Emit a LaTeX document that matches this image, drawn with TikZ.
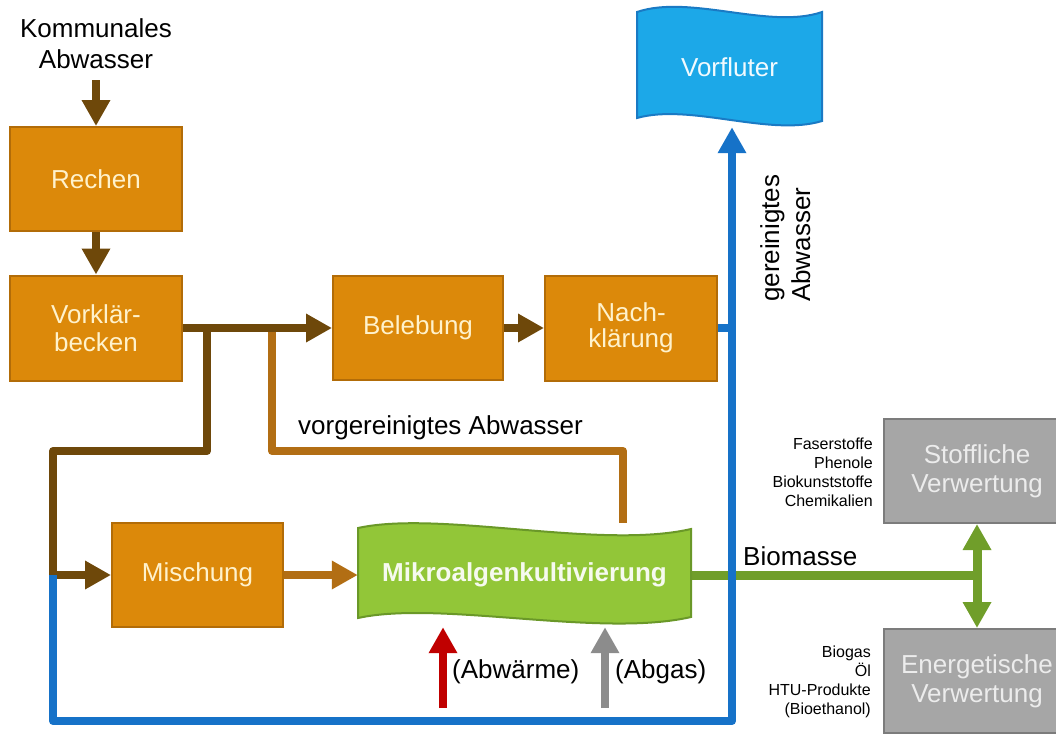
\documentclass[tikz,border=0pt]{standalone}
\usepackage{fontspec}
\setmainfont{Liberation Sans}
\usetikzlibrary{arrows.meta}
\pgfdeclarelayer{back}
\pgfsetlayers{back,main}

\definecolor{boxfill}{RGB}{220,137,10}
\definecolor{boxedge}{RGB}{178,108,8}
\definecolor{boxtext}{RGB}{255,242,204}
\definecolor{pipedark}{RGB}{110,72,10}
\definecolor{pipelight}{RGB}{178,110,20}
\definecolor{waterline}{RGB}{22,114,200}
\definecolor{riverfill}{RGB}{28,168,232}
\definecolor{riveredge}{RGB}{26,122,196}
\definecolor{algaefill}{RGB}{146,198,56}
\definecolor{algaeedge}{RGB}{106,152,40}
\definecolor{biopipe}{RGB}{112,158,42}
\definecolor{usefill}{RGB}{166,166,166}
\definecolor{useedge}{RGB}{124,124,124}
\definecolor{usetext}{RGB}{236,236,236}
\definecolor{heatred}{RGB}{192,0,0}
\definecolor{gasgrey}{RGB}{140,140,140}

\newcommand\bigtxt{\fontsize{26}{28}\selectfont}
\newcommand\smalltxt{\fontsize{16}{19}\selectfont}

\begin{document}
\begin{tikzpicture}[x=1pt,y=-1pt,
  box/.style={draw=boxedge, line width=2pt, fill=boxfill, text=boxtext,
    minimum width=172pt, minimum height=104pt, inner sep=0pt, align=center, font=\bigtxt},
  usebox/.style={draw=useedge, line width=2pt, fill=usefill, text=usetext,
    minimum width=186pt, minimum height=104pt, inner sep=0pt, align=center,
    font=\fontsize{26}{29}\selectfont},
  head/.style={-{Triangle[length=26pt,width=27pt]}},
  pipe/.style={line width=8pt, line join=round},
  darkflow/.style={pipe, draw=pipedark, head},
  lightflow/.style={pipe, draw=pipelight, head},
  water/.style={pipe, draw=waterline},
  bio/.style={pipe, line width=9pt, draw=biopipe},
  caption/.style={inner sep=0pt, font=\bigtxt},
  small/.style={inner sep=0pt, font=\smalltxt, align=right, anchor=north east}]

\useasboundingbox (0,0) rectangle (1056,734);

% process boxes
\node[caption, anchor=north, align=center, font=\fontsize{26}{31}\selectfont] (kom) at (96,18) {Kommunales\\Abwasser};
\node[box] (rechen) at (96,179) {Rechen};
\node[box, minimum height=105pt, font=\fontsize{26}{28}\selectfont] (vork) at (96,328) {Vorklär-\\becken};
\node[box, minimum width=170pt] (beleb) at (418,328) {Belebung};
\node[box, minimum height=105pt, font=\fontsize{26}{26}\selectfont] (nach) at (631,328) {Nach-\\klärung};
\node[box, minimum width=171pt] (misch) at (197.5,575) {Mischung};

% receiving water (wave shape)
\draw[riveredge, fill=riverfill, line width=2pt]
  (637,12) .. controls (690,-6) and (770,30) .. (822,12)
  -- (822,121) .. controls (770,137) and (690,103) .. (637,118) -- cycle;
\node[inner sep=0pt, minimum width=185pt, minimum height=120pt, text=white!94!riverfill,
  font=\bigtxt] (vorfl) at (729.5,67) {Vorfluter};

% algae cultivation (wave shape)
\draw[algaeedge, fill=algaefill, line width=2pt]
  (358,528) .. controls (440,510) and (600,550) .. (691,529)
  -- (691,617) .. controls (600,638) and (440,600) .. (358,618) -- cycle;
\node[inner sep=0pt, minimum width=333pt, minimum height=104pt, text=white!92!algaefill,
  font=\bigtxt\bfseries] (algen) at (524.5,575) {Mikroalgenkultivierung};

% utilisation boxes
\node[usebox] (stoff) at (977,471) {Stoffliche\\Verwertung};
\node[usebox] (energ) at (977,681) {Energetische\\Verwertung};

% labels
\node[caption, anchor=base west] (vorg) at (298,434) {vorgereinigtes Abwasser};
\node[caption, anchor=north west, rotate=90, align=left, font=\fontsize{26}{31}\selectfont]
  (gerein) at (760,302) {gereinigtes\\Abwasser};
\node[caption, anchor=base west] (biom) at (743,565) {Biomasse};
\node[caption, anchor=base west] (waerme) at (452,678) {(Abwärme)};
\node[caption, anchor=base west] (abgas) at (615,678) {(Abgas)};
\node[small] (stofflist) at (873,438) {Faserstoffe\\Phenole\\Biokunststoffe\\Chemikalien};
\node[small] (energlist) at (871,646) {Biogas\\Öl\\HTU-Produkte\\(Bioethanol)};

% junctions and bends
\coordinate (j1) at (207,328);
\coordinate (j2) at (272,328);
\coordinate (c1) at (53,451);
\coordinate (c2) at (53,575);
\coordinate (c3) at (623,451);
\coordinate (b1) at (53,721);
\coordinate (b2) at (732,721);
\coordinate (g1) at (977,575);
\coordinate (r0) at (443,708);
\coordinate (s0) at (605,708);

\begin{pgfonlayer}{back}
  \draw[darkflow, shorten <=12pt] (kom.south) -- (rechen.north);
  \draw[darkflow] (rechen) -- (vork);
  \draw[pipe, draw=pipelight] (j2) |- (c3) -- (c3 |- algen.north);
  \draw[darkflow] (j1) |- (c1) |- (misch.west);
  \draw[darkflow] (vork.east) -- (beleb.west);
  \draw[darkflow] (beleb) -- (nach);
  \draw[lightflow] (misch) -- (algen);
  \draw[bio] (algen.east) -- (g1);
  \draw[bio, {Triangle[length=26pt,width=27pt]}-{Triangle[length=26pt,width=27pt]}]
    (stoff.south) -- (energ.north);
  \draw[water] (nach.east) -- (nach.east -| b2);
  \draw[water, head] (c2) -- (b1) -- (b2) -- (b2 |- vorfl.south);
  \draw[pipe, draw=heatred, head] (r0) -- (r0 |- algen.south);
  \draw[pipe, draw=gasgrey, head] (s0) -- (s0 |- algen.south);
\end{pgfonlayer}
\end{tikzpicture}
\end{document}
